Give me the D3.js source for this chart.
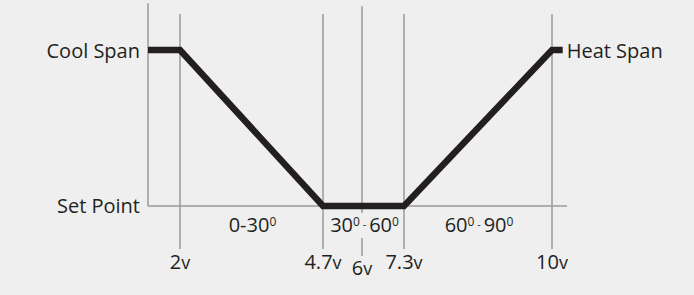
<!DOCTYPE html>
<html>
<head>
<meta charset="utf-8">
<script src="https://cdn.jsdelivr.net/npm/d3@7"></script>
<style>
  body { margin: 0; background: #efefef; }
  svg { display: block; }
  text { font-family: "Open Sans", sans-serif; fill: #231f20; }
</style>
</head>
<body>
<div id="chart"></div>
<script>
// voltage ticks on the bottom
let tickVolts = [2, 4.7, 6, 7.3, 10];
let tickLabels = ["2", "4.7", "6", "7.3", "10"];

// temperature bands between ticks
let bandFrom = [2, 4.7, 7.3];
let bandTo = [4.7, 7.3, 10];
let bandLo = ["0", "30", "60"];
let bandHi = ["30", "60", "90"];

// the output curve (volts -> level, 0 = set point, 1 = span)
let curveVolts = [1.4, 2, 4.7, 7.3, 10, 10.25];
let curveLevel = [1, 1, 0, 0, 1, 1];

let width = 694, height = 295;

let svg = d3.select("#chart").append("svg")
  .attr("width", width)
  .attr("height", height);

svg.append("rect").attr("width", width).attr("height", height).attr("fill", "#efefef");

// not to scale on the original, so piecewise
let x = d3.scaleLinear()
  .domain([1.4, 2, 4.7, 6, 7.3, 10, 10.35])
  .range([148, 180, 323, 362, 404, 552, 567]);

let y = d3.scaleLinear()
  .domain([0, 1])
  .range([206, 50]);

let grey = "#9a9a9a";

// left axis + base line
svg.append("line")
  .attr("x1", x(1.4)).attr("x2", x(1.4))
  .attr("y1", y(1.3)).attr("y2", y(0))
  .attr("stroke", grey).attr("stroke-width", 1.5);

svg.append("line")
  .attr("x1", x(1.4)).attr("x2", x(10.35))
  .attr("y1", y(0)).attr("y2", y(0))
  .attr("stroke", grey).attr("stroke-width", 1.5);

// vertical tick lines, the middle one (6v) runs longer
svg.selectAll(".tick").data(tickVolts).join("line")
  .attr("class", "tick")
  .attr("x1", d => x(d)).attr("x2", d => x(d))
  .attr("y1", d => d == 6 ? y(1.28) : y(1.23))
  .attr("y2", d => d == 6 ? y(0) + 50 : y(0) + 43)
  .attr("stroke", grey).attr("stroke-width", 1.5);

// band labels, with a bg box so the 6v line gets cut
let bands = svg.selectAll(".band").data(bandLo).join("g")
  .attr("class", "band")
  .attr("transform", (d, i) => `translate(${(x(bandFrom[i]) + x(bandTo[i])) / 2 + 1},232)`);

bands.append("rect").attr("fill", "#efefef");

let bt = bands.append("text")
  .attr("text-anchor", "middle")
  .attr("font-size", 20);

bt.each(function (d, i) {
  let t = d3.select(this);
  if (i == 0) {
    t.append("tspan").text(bandLo[i] + "-" + bandHi[i]);
  } else {
    t.append("tspan").text(bandLo[i]);
    t.append("tspan").attr("font-size", 12).attr("dy", -6).text("0");
    t.append("tspan").attr("font-size", 11).attr("dy", 2).text(" - ");
    t.append("tspan").attr("dy", 4).text(bandHi[i]);
  }
  t.append("tspan").attr("font-size", 12).attr("dy", -6).text("0");
});

bands.each(function () {
  let b = d3.select(this).select("text").node().getBBox();
  d3.select(this).select("rect")
    .attr("x", b.x).attr("y", b.y + 2)
    .attr("width", b.width).attr("height", b.height - 2);
});

// the curve
let line = d3.line()
  .x((d, i) => x(d))
  .y((d, i) => y(curveLevel[i]));

svg.append("path")
  .attr("d", line(curveVolts))
  .attr("fill", "none")
  .attr("stroke", "#231f20")
  .attr("stroke-width", 6.5)
  .attr("stroke-linejoin", "miter");

// voltage labels
let vl = svg.selectAll(".vlabel").data(tickVolts).join("text")
  .attr("class", "vlabel")
  .attr("text-anchor", "middle")
  .attr("font-size", 20)
  .attr("x", d => x(d))
  .attr("y", d => d == 6 ? 275 : 269);

vl.append("tspan").text((d, i) => tickLabels[i]);
vl.append("tspan").attr("font-size", 18).text("v");

// level labels
svg.append("text")
  .attr("x", x(1.4) - 8).attr("y", y(1) + 8)
  .attr("text-anchor", "end").attr("font-size", 20)
  .text("Cool Span");

svg.append("text")
  .attr("x", x(1.4) - 8).attr("y", y(0) + 7)
  .attr("text-anchor", "end").attr("font-size", 20)
  .text("Set Point");

svg.append("text")
  .attr("x", x(10.25) + 4).attr("y", y(1) + 8)
  .attr("font-size", 20)
  .text("Heat Span");
</script>
</body>
</html>
